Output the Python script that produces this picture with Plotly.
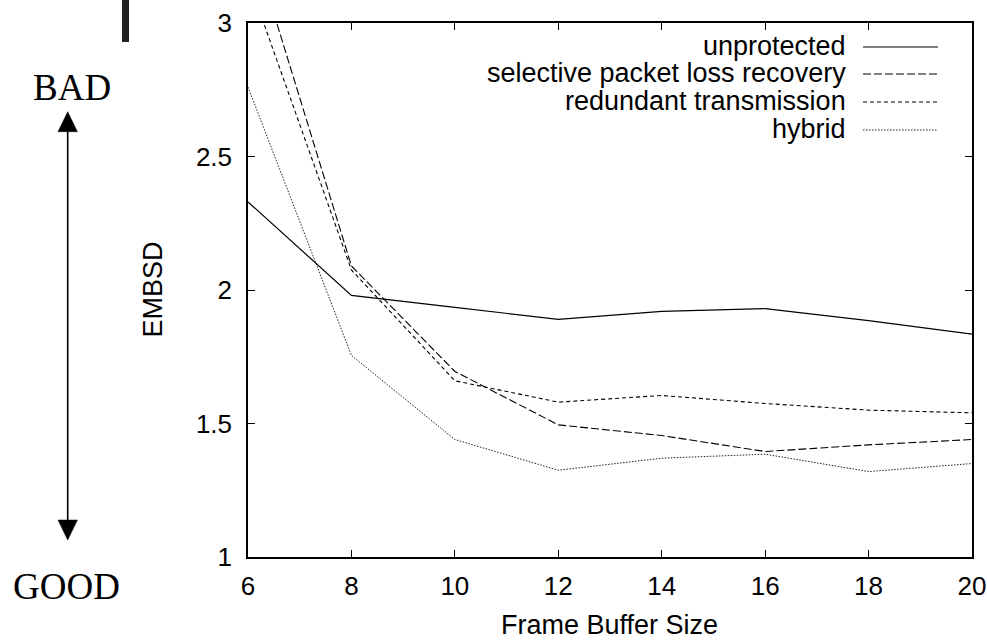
import plotly.graph_objects as go

# ---- data ----
frame_buffer = [6, 8, 10, 12, 14, 16, 18, 20]
unprotected = [2.33, 1.98, 1.935, 1.89, 1.92, 1.93, 1.885, 1.835]
selective = [3.35, 2.09, 1.695, 1.495, 1.455, 1.395, 1.42, 1.44]
redundant = [3.165, 2.075, 1.66, 1.58, 1.605, 1.575, 1.55, 1.54]
hybrid = [2.76, 1.755, 1.44, 1.325, 1.37, 1.385, 1.32, 1.35]

series_names = ["unprotected", "selective packet loss recovery",
                "redundant transmission", "hybrid"]
x_ticks = [6, 8, 10, 12, 14, 16, 18, 20]
y_ticks = [1, 1.5, 2, 2.5, 3]
y_tick_labels = ["1", "1.5", "2", "2.5", "3"]

# ---- styles ----
W, H = 987, 640
ML, MR, MT, MB = 248, 15, 23, 83
PW, PH = W - ML - MR, H - MT - MB


def px(xp):
    return (xp - ML) / PW


def py(yp):
    return (H - MB - yp) / PH


styles = [
    dict(color="black", width=1.2, dash="solid"),
    dict(color="black", width=1.1, dash="8px,3px"),
    dict(color="black", width=1.1, dash="4px,3px"),
    dict(color="#222", width=1.0, dash="1.5px,1.5px"),
]
SANS = "Liberation Sans, Arial, sans-serif"
SERIF = "Liberation Serif, Times New Roman, serif"

fig = go.Figure()
for name, ys, st in zip(series_names, [unprotected, selective, redundant, hybrid], styles):
    fig.add_trace(go.Scatter(x=frame_buffer, y=ys, mode="lines", name=name,
                             line=st, showlegend=False))

shapes = []
annotations = []

# custom legend (text left of sample)
legend_rows = [46, 73, 101, 129]
for name, st, yp in zip(series_names, styles, legend_rows):
    annotations.append(dict(x=px(848), y=py(yp), xref="paper", yref="paper",
                            text=name, showarrow=False, xanchor="right",
                            yanchor="middle", font=dict(family=SANS, size=27, color="black")))
    shapes.append(dict(type="line", xref="paper", yref="paper",
                       x0=px(863), x1=px(938), y0=py(yp + 1), y1=py(yp + 1),
                       line=st))

# axis titles
annotations.append(dict(x=px(609.5), y=py(625), xref="paper", yref="paper",
                        text="Frame Buffer Size", showarrow=False,
                        xanchor="center", yanchor="middle",
                        font=dict(family=SANS, size=27, color="black")))
annotations.append(dict(x=px(152.5), y=py(290), xref="paper", yref="paper",
                        text="EMBSD", showarrow=False, textangle=-90,
                        xanchor="center", yanchor="middle",
                        font=dict(family=SANS, size=27, color="black")))

# BAD / GOOD
annotations.append(dict(x=px(72), y=py(88), xref="paper", yref="paper",
                        text="BAD", showarrow=False, xanchor="center", yanchor="middle",
                        font=dict(family=SERIF, size=37, color="black")))
annotations.append(dict(x=px(66.5), y=py(586), xref="paper", yref="paper",
                        text="GOOD", showarrow=False, xanchor="center", yanchor="middle",
                        font=dict(family=SERIF, size=37, color="black")))

# double arrow
ax = 67.7
shapes.append(dict(type="line", xref="paper", yref="paper",
                   x0=px(ax), x1=px(ax), y0=py(128), y1=py(524),
                   line=dict(color="black", width=1.6)))
hw = 9.7
shapes.append(dict(type="path", xref="paper", yref="paper",
                   path=f"M {px(ax)} {py(111.7)} L {px(ax - hw)} {py(131.7)} L {px(ax + hw)} {py(131.7)} Z",
                   fillcolor="black", line=dict(color="black", width=0.5)))
shapes.append(dict(type="path", xref="paper", yref="paper",
                   path=f"M {px(ax)} {py(540)} L {px(ax - hw)} {py(520)} L {px(ax + hw)} {py(520)} Z",
                   fillcolor="black", line=dict(color="black", width=0.5)))

# dark bar at top-left
shapes.append(dict(type="rect", xref="paper", yref="paper",
                   x0=px(122), x1=px(129), y0=py(42), y1=py(-5),
                   fillcolor="#222", line=dict(width=0)))

fig.update_layout(
    width=W, height=H,
    margin=dict(l=ML, r=MR, t=MT, b=MB, pad=0, autoexpand=False),
    plot_bgcolor="white", paper_bgcolor="white",
    showlegend=False,
    shapes=shapes, annotations=annotations,
    font=dict(family=SANS, color="black"),
)
fig.update_xaxes(range=[6, 20], tickvals=x_ticks, ticks="inside", ticklen=7,
                 tickwidth=1, tickcolor="black", showline=True, linecolor="black",
                 linewidth=1.5, mirror="allticks", showgrid=False, zeroline=False,
                 tickfont=dict(family=SANS, size=26, color="black"),
                 ticklabelstandoff=5, automargin=False)
fig.update_yaxes(range=[1, 3], tickvals=y_ticks, ticktext=y_tick_labels,
                 ticks="inside", ticklen=7, tickwidth=1, tickcolor="black",
                 showline=True, linecolor="black", linewidth=1.5, mirror="allticks",
                 showgrid=False, zeroline=False,
                 tickfont=dict(family=SANS, size=26, color="black"),
                 ticklabelstandoff=9, automargin=False)

fig.write_html(
    "out.html",
    config={"displayModeBar": False},
    post_script="document.body.style.margin='0';document.body.style.padding='0';"
                "document.body.style.overflow='hidden';",
)
